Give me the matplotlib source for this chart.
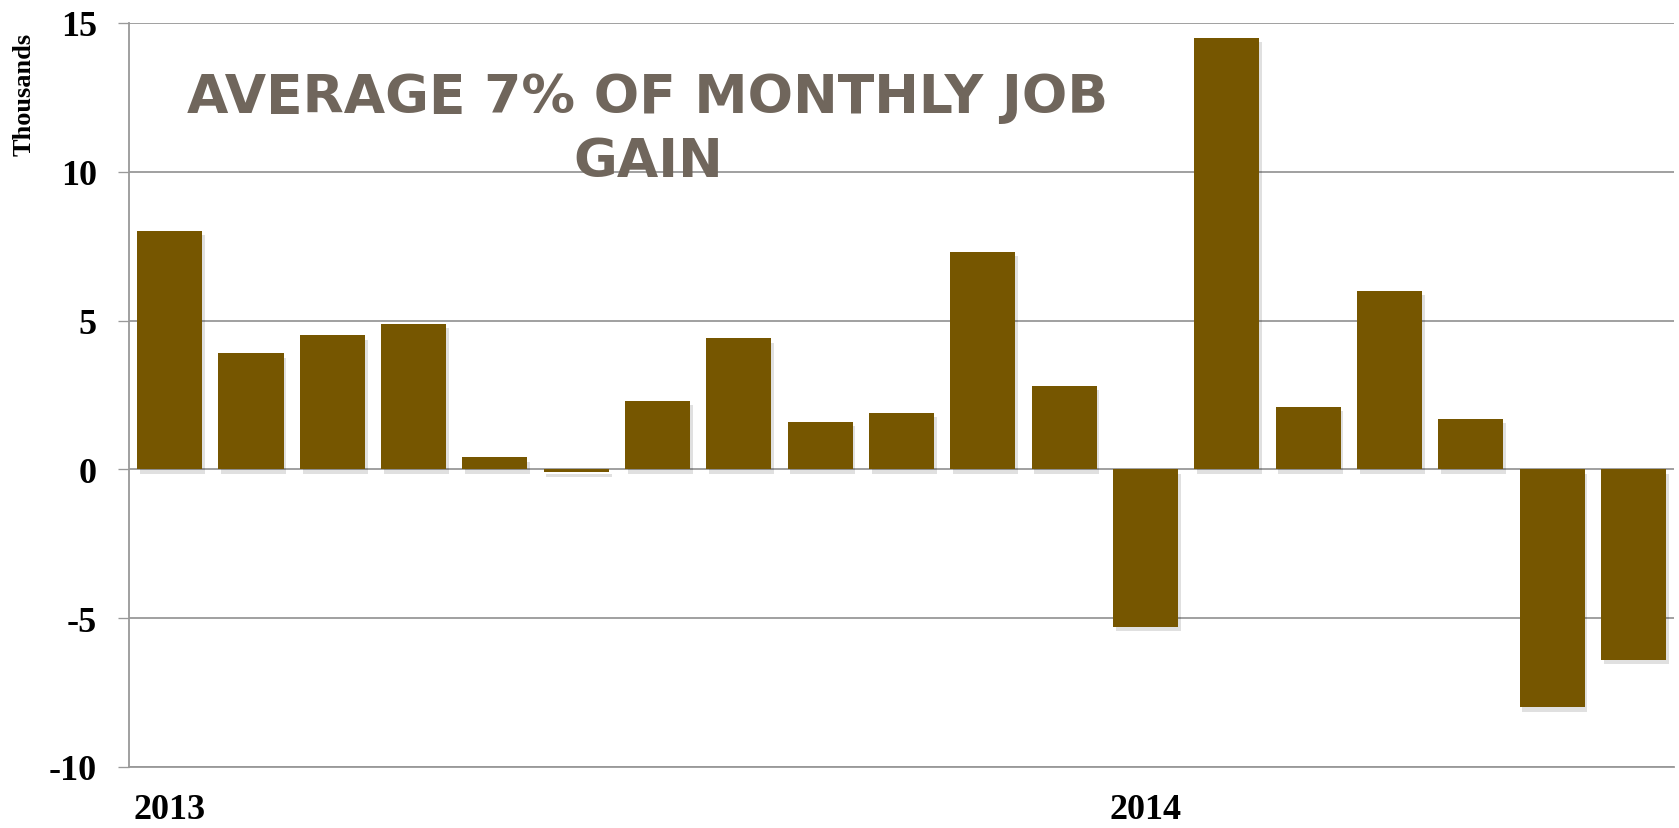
import matplotlib
matplotlib.use("Agg")
import matplotlib.pyplot as plt
import matplotlib.patheffects as pe
import numpy as np

# Data (thousands), monthly Jan 2013 .. Jul 2014
months = ["2013-01", "2013-02", "2013-03", "2013-04", "2013-05", "2013-06",
          "2013-07", "2013-08", "2013-09", "2013-10", "2013-11", "2013-12",
          "2014-01", "2014-02", "2014-03", "2014-04", "2014-05", "2014-06",
          "2014-07"]
values = [8.0, 3.9, 4.5, 4.9, 0.4, -0.1, 2.3, 4.4, 1.6, 1.9, 7.3, 2.8,
          -5.3, 14.5, 2.1, 6.0, 1.7, -8.0, -6.4]
xtick_labels = ["2013", "2014"]
xtick_months = ["2013-01", "2014-01"]
yticks = [-10, -5, 0, 5, 10, 15]

bar_color = "#765600"
grid_color = "#999999"
title_color = "#70665c"

fig = plt.figure(figsize=(16.79, 8.29), dpi=100)
ax = fig.add_axes([129/1679, 1 - 768/829, (1674-129)/1679, (768-24)/829])

x = np.arange(len(months))
bars = ax.bar(x, values, width=0.8, color=bar_color, zorder=3)
for b in bars:
    b.set_path_effects([pe.SimplePatchShadow(offset=(2, -3), shadow_rgbFace="#000000", alpha=0.12),
                        pe.Normal()])

ax.set_xlim(-0.5, len(months) - 0.5)
ax.set_ylim(-10, 15)
ax.set_yticks(yticks)
ax.set_yticklabels([str(v) for v in yticks])
ax.yaxis.grid(True, color=grid_color, linewidth=1.3, zorder=0)
ax.set_axisbelow(True)

ax.set_xticks([months.index(m) for m in xtick_months])
ax.set_xticklabels(xtick_labels)

for s in ["top", "right"]:
    ax.spines[s].set_visible(False)
for s in ["left", "bottom"]:
    ax.spines[s].set_color(grid_color)
    ax.spines[s].set_linewidth(1.3)

for lbl in ax.get_yticklabels() + ax.get_xticklabels():
    lbl.set_fontfamily("Liberation Serif")
    lbl.set_fontweight("bold")
    lbl.set_fontsize(26)
    lbl.set_color("black")

ax.tick_params(axis="y", length=8, width=0.95, color=grid_color, pad=15)
ax.tick_params(axis="x", length=0, pad=19)

fig.text(24/1679, 1 - 94/829, "Thousands", rotation=90, ha="center", va="center",
         family="Liberation Serif", weight="bold", size=19)

ax.text(648/1679, 1 - 130/829, "AVERAGE 7% OF MONTHLY JOB\nGAIN", transform=fig.transFigure,
        ha="center", va="center", color=title_color, family="DejaVu Sans",
        weight="bold", size=38.5, linespacing=1.27, zorder=5)

fig.savefig("out.png", dpi=100, facecolor="white")
